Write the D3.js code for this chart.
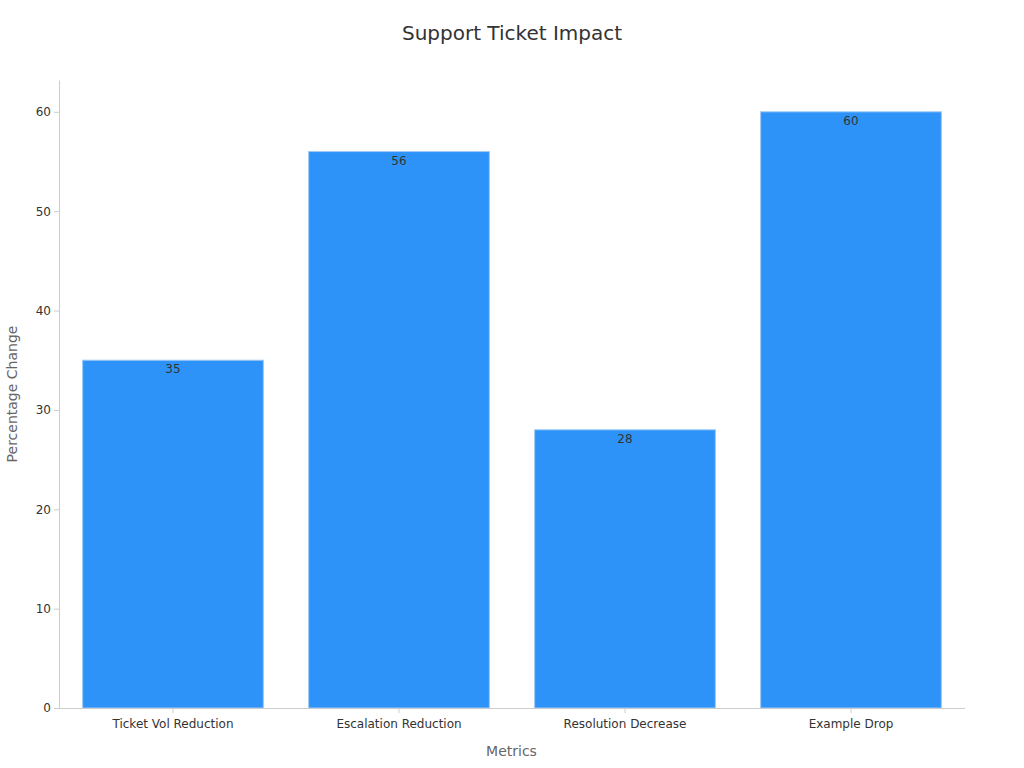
<!DOCTYPE html>
<html>
<head>
<meta charset="utf-8">
<style>
  body { margin: 0; background: #fff; font-family: "DejaVu Sans", sans-serif; }
  .axis text { font: 12px "DejaVu Sans", sans-serif; fill: #333; }
  .axis path, .axis line { stroke: #ccc; }
</style>
<title>Support Ticket Impact</title>
</head>
<body>
<script src="https://cdn.jsdelivr.net/npm/d3@7"></script>
<script>
// data
var categories = ["Ticket Vol Reduction", "Escalation Reduction", "Resolution Decrease", "Example Drop"];
var values = [35, 56, 28, 60];
var yTicks = [0, 10, 20, 30, 40, 50, 60];

var width = 1024, height = 768;
var margin = {top: 80, right: 60, bottom: 60, left: 59};

var svg = d3.select("body").append("svg")
  .attr("width", width)
  .attr("height", height);

var x = d3.scaleBand()
  .domain(categories)
  .range([margin.left + 1, width - margin.right])
  .paddingInner(0.2)
  .paddingOuter(0.1);

var y = d3.scaleLinear()
  .domain([0, 63.2])
  .range([height - margin.bottom, margin.top]);

// title
svg.append("text")
  .attr("x", width / 2)
  .attr("y", 40)
  .attr("text-anchor", "middle")
  .style("font-size", "20px")
  .style("fill", "#333")
  .text("Support Ticket Impact");

// bars
svg.append("g")
  .selectAll("rect")
  .data(values)
  .enter().append("rect")
    .attr("x", (d, i) => x(categories[i]))
    .attr("y", d => y(d))
    .attr("width", x.bandwidth())
    .attr("height", d => y(0) - y(d))
    .attr("fill", "#2E93F9")
    .attr("stroke", "#9fcaf5")
    .attr("stroke-width", 1);

// value labels
svg.append("g")
  .selectAll("text")
  .data(values)
  .enter().append("text")
    .attr("x", (d, i) => x(categories[i]) + x.bandwidth() / 2)
    .attr("y", d => y(d) + 13)
    .attr("text-anchor", "middle")
    .style("font-size", "12px")
    .style("fill", "#333")
    .text(d => d);

// axes
var xAxis = svg.append("g")
  .attr("class", "axis")
  .attr("transform", "translate(0," + y(0) + ")")
  .call(d3.axisBottom(x).tickSizeInner(5).tickSizeOuter(0).tickPadding(6));
xAxis.select(".domain").attr("d", "M" + margin.left + ",0.5H" + (width - margin.right + 1));

var yAxis = svg.append("g")
  .attr("class", "axis")
  .attr("transform", "translate(" + margin.left + ",0)")
  .call(d3.axisLeft(y).tickValues(yTicks).tickSizeInner(5).tickSizeOuter(0).tickPadding(3));
yAxis.selectAll(".tick line").attr("stroke", "#666");
xAxis.selectAll(".tick line").attr("stroke", "#999");

// axis titles
svg.append("text")
  .attr("x", (margin.left + width - margin.right) / 2)
  .attr("y", 756)
  .attr("text-anchor", "middle")
  .style("font-size", "14px")
  .style("fill", "#666")
  .text("Metrics");

svg.append("text")
  .attr("transform", "translate(17," + (margin.top + height - margin.bottom) / 2 + ") rotate(-90)")
  .attr("text-anchor", "middle")
  .style("font-size", "14px")
  .style("fill", "#666")
  .text("Percentage Change");
</script>
</body>
</html>
